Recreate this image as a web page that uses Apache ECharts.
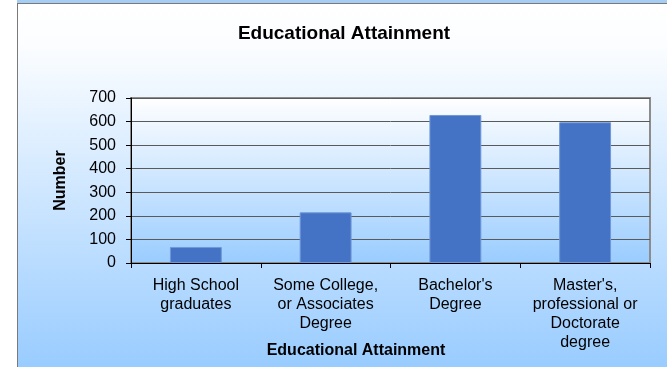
<!DOCTYPE html>
<html>
<head>
<meta charset="utf-8">
<script src="https://cdn.jsdelivr.net/npm/echarts@6/dist/echarts.min.js"></script>
<style>
  html, body { margin: 0; padding: 0; background: #ffffff; }
  #chart { width: 667px; height: 367px; }
</style>
</head>
<body>
<div id="chart"></div>
<script>
const categories = [
  "High School\ngraduates",
  "Some College,\nor Associates\nDegree",
  "Bachelor's\nDegree",
  "Master's,\nprofessional or\nDoctorate\ndegree"
];
const values = [68, 215, 628, 597];
const yTicks = [0, 100, 200, 300, 400, 500, 600, 700];
const chartTitle = "Educational Attainment";
const xAxisTitle = "Educational Attainment";
const yAxisTitle = "Number";

const FONT = "'Liberation Sans', Arial, sans-serif";
const chart = echarts.init(document.getElementById('chart'));

const option = {
  animation: false,
  backgroundColor: '#ffffff',
  graphic: [
    { type: 'rect', z: -100, shape: { x: 17, y: 3, width: 650, height: 364 },
      style: { fill: new echarts.graphic.LinearGradient(0, 0, 0, 1, [
        { offset: 0, color: '#ffffff' },
        { offset: 0.12, color: '#fbfdff' },
        { offset: 1, color: '#99ccff' }
      ]) } },
    { type: 'rect', z: -99, shape: { x: 0, y: 0, width: 667, height: 3 }, style: { fill: '#a6cdf4' } },
    { type: 'rect', z: -99, shape: { x: 0, y: 0, width: 17, height: 367 }, style: { fill: '#ffffff' } },
    { type: 'line', z: -98, shape: { x1: 17, y1: 3.5, x2: 667, y2: 3.5 }, style: { stroke: '#7a7a7a', lineWidth: 1 } },
    { type: 'line', z: -98, shape: { x1: 17.5, y1: 3, x2: 17.5, y2: 367 }, style: { stroke: '#7a7a7a', lineWidth: 1 } },
    { type: 'text', x: 344, y: 34, style: { text: chartTitle, font: "bold 19px " + FONT, fill: '#000', textAlign: 'center', textVerticalAlign: 'middle' } },
    { type: 'text', x: 356, y: 351, style: { text: xAxisTitle, font: "bold 16px " + FONT, fill: '#000', textAlign: 'center', textVerticalAlign: 'middle' } }
  ],
  grid: {
    left: 131, right: 17, top: 98, bottom: 104,
    show: true,
    borderColor: '#8c8c8c', borderWidth: 2,
    backgroundColor: new echarts.graphic.LinearGradient(0, 0, 0, 1, [
      { offset: 0, color: '#ffffff' },
      { offset: 1, color: '#99ccff' }
    ])
  },
  xAxis: {
    type: 'category',
    data: categories,
    axisLine: { show: true, lineStyle: { color: '#000', width: 1 } },
    axisTick: { show: true, length: 5, lineStyle: { color: '#000' } },
    axisLabel: { margin: 13, fontFamily: FONT, fontSize: 16, lineHeight: 19, color: '#000', interval: 0 },
    splitLine: { show: false }
  },
  yAxis: {
    type: 'value',
    min: yTicks[0], max: yTicks[yTicks.length - 1], interval: 100,
    name: yAxisTitle, nameLocation: 'middle', nameRotate: 90, nameGap: 62,
    nameTextStyle: { fontFamily: FONT, fontSize: 16, fontWeight: 'bold', color: '#000' },
    axisLine: { show: true, lineStyle: { color: '#000', width: 1 } },
    axisTick: { show: true, length: 5, lineStyle: { color: '#000' } },
    axisLabel: { margin: 15, fontFamily: FONT, fontSize: 16, color: '#000' },
    splitLine: { show: true, lineStyle: { color: '#5a5a5a', width: 1 } }
  },
  series: [{
    type: 'bar',
    data: values,
    barWidth: '40%',
    itemStyle: { color: '#4472c4', borderColor: '#7097d8', borderWidth: 1 }
  }]
};
chart.setOption(option);
</script>
</body>
</html>
